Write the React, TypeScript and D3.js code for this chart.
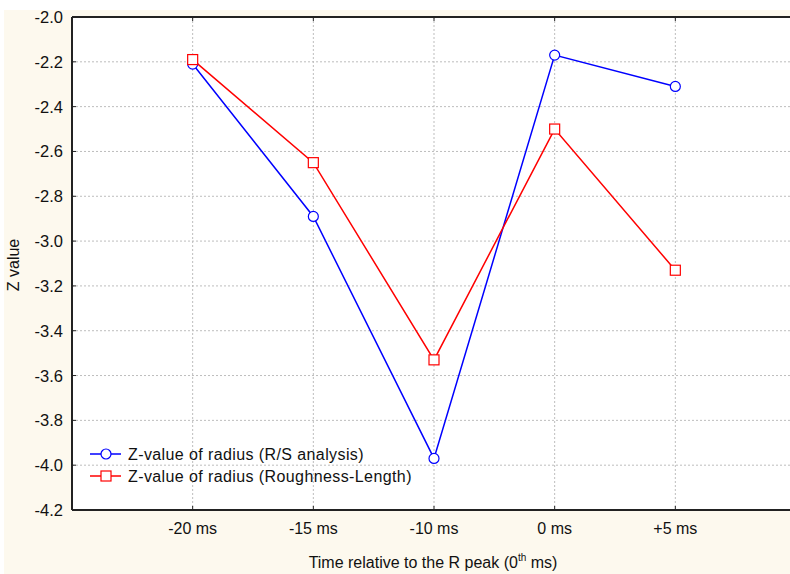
import * as d3 from "d3";

const categories: string[] = ["-20 ms", "-15 ms", "-10 ms", "0 ms", "+5 ms"];
const rsValues: number[] = [-2.21, -2.89, -3.97, -2.17, -2.31];
const rlValues: number[] = [-2.19, -2.65, -3.53, -2.5, -3.13];
const yTicks: number[] = [-2.0, -2.2, -2.4, -2.6, -2.8, -3.0, -3.2, -3.4, -3.6, -3.8, -4.0, -4.2];
const seriesNames: string[] = [
  "Z-value of radius (R/S analysis)",
  "Z-value of radius (Roughness-Length)",
];

export default function App() {
  const w = 790;
  const h = 574;
  const left = 72;
  const top = 17;
  const bottom = 510;
  const right = 796;
  const font = "'Liberation Sans', Arial, sans-serif";

  // one empty slot on each side of the categories
  const xScale = d3.scaleLinear().domain([0, categories.length + 1]).range([left, right]);
  const yScale = d3.scaleLinear().domain([-4.2, -2.0]).range([bottom, top]);
  const xOf = (i: number) => xScale(i + 1);

  const line = d3
    .line<number>()
    .x((d, i) => xOf(i))
    .y((d) => yScale(d));

  return (
    <svg
      width={w}
      height={h}
      style={{ position: "absolute", left: 0, top: 0, display: "block" }}
      fontFamily={font}
    >
      <rect x={0} y={0} width={w} height={h} fill="#ffffff" />
      <rect x={4} y={10} width={w - 4} height={h - 10} fill="#fdf9ee" />
      <rect x={left} y={top} width={right - left} height={bottom - top} fill="#ffffff" />

      {/* grid */}
      {yTicks.map((t) => (
        <line
          key={"gy" + t}
          x1={left}
          x2={right}
          y1={yScale(t)}
          y2={yScale(t)}
          stroke="#bdbdbd"
          strokeWidth={1}
          strokeDasharray="2,2"
        />
      ))}
      {categories.map((c, i) => (
        <line
          key={"gx" + c}
          x1={xOf(i)}
          x2={xOf(i)}
          y1={top}
          y2={bottom}
          stroke="#bdbdbd"
          strokeWidth={1}
          strokeDasharray="2,2"
        />
      ))}

      {/* axes */}
      <line x1={left} x2={right} y1={top} y2={top} stroke="#222" strokeWidth={2} />
      <line x1={left} x2={right} y1={bottom} y2={bottom} stroke="#222" strokeWidth={2} />
      <line x1={left} x2={left} y1={top} y2={bottom} stroke="#222" strokeWidth={2} />

      {yTicks.map((t) => (
        <g key={"ty" + t}>
          <line x1={left} x2={left + 4} y1={yScale(t)} y2={yScale(t)} stroke="#222" strokeWidth={1} />
          <text
            x={left - 9}
            y={yScale(t)}
            textAnchor="end"
            dominantBaseline="central"
            fontSize={16.5}
            fill="#111"
          >
            {t.toFixed(1)}
          </text>
        </g>
      ))}
      {categories.map((c, i) => (
        <g key={"tx" + c}>
          <line x1={xOf(i)} x2={xOf(i)} y1={bottom} y2={bottom - 4} stroke="#222" strokeWidth={1} />
          <line x1={xOf(i)} x2={xOf(i)} y1={top} y2={top + 4} stroke="#222" strokeWidth={1} />
          <text x={xOf(i)} y={bottom + 24} textAnchor="middle" fontSize={16} fill="#111">
            {c}
          </text>
        </g>
      ))}

      <text
        transform={`translate(19, 265) rotate(-90)`}
        textAnchor="middle"
        fontSize={16}
        fill="#111"
      >
        Z value
      </text>
      <text x={433} y={568} textAnchor="middle" fontSize={16} fill="#111">
        Time relative to the R peak (0
        <tspan fontSize={10} dy={-7}>th</tspan>
        <tspan dy={7}> ms)</tspan>
      </text>

      {/* series */}
      <path d={line(rsValues) || ""} fill="none" stroke="#0000ff" strokeWidth={1.5} />
      <path d={line(rlValues) || ""} fill="none" stroke="#ff0000" strokeWidth={1.5} />
      {rsValues.map((v, i) => (
        <circle key={"c" + i} cx={xOf(i)} cy={yScale(v)} r={5} fill="#fff" stroke="#0000ff" strokeWidth={1.2} />
      ))}
      {rlValues.map((v, i) => (
        <rect
          key={"r" + i}
          x={xOf(i) - 5}
          y={yScale(v) - 5}
          width={10}
          height={10}
          fill="#fff"
          stroke="#ff0000"
          strokeWidth={1.2}
        />
      ))}

      {/* legend */}
      {seriesNames.map((name, i) => {
        const ly = 454 + i * 22;
        const color = i === 0 ? "#0000ff" : "#ff0000";
        return (
          <g key={name}>
            <line x1={90} x2={121} y1={ly} y2={ly} stroke={color} strokeWidth={1.5} />
            {i === 0 ? (
              <circle cx={106} cy={ly} r={5} fill="#fff" stroke={color} strokeWidth={1.2} />
            ) : (
              <rect x={101} y={ly - 5} width={10} height={10} fill="#fff" stroke={color} strokeWidth={1.2} />
            )}
            <text
              x={128}
              y={ly}
              dominantBaseline="central"
              fontSize={16}
              letterSpacing={0.4}
              fill="#111"
            >
              {name}
            </text>
          </g>
        );
      })}
    </svg>
  );
}
